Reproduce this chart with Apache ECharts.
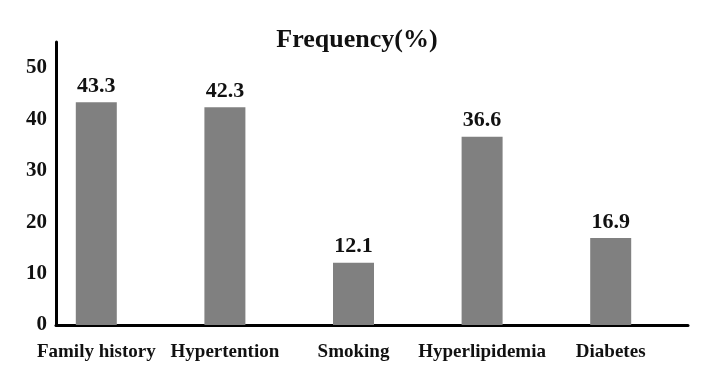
<!DOCTYPE html>
<html><head><meta charset="utf-8">
<script src="https://cdn.jsdelivr.net/npm/echarts@6/dist/echarts.min.js"></script>
<style>html,body{margin:0;padding:0;background:#fff}#c{width:701px;height:372px}</style>
</head><body><div id="c"></div>
<script>
const categories = ['Family history', 'Hypertention', 'Smoking', 'Hyperlipidemia', 'Diabetes'];
const frequency = [43.3, 42.3, 12.1, 36.6, 16.9];
const yTicks = [0, 10, 20, 30, 40, 50];

const font = '"Liberation Serif", "Times New Roman", serif';
const chart = echarts.init(document.getElementById('c'), null, {renderer: 'canvas'});
chart.setOption({
  animation: false,
  backgroundColor: '#fff',
  title: {
    text: 'Frequency(%)', left: 352, top: 22, textAlign: 'center',
    textStyle: {fontFamily: font, fontWeight: 'bold', fontSize: 26, color: '#111'}
  },
  grid: [
    {left: 32, right: 26, top: 42, bottom: 47},
    {left: 56, right: 13, top: 42, bottom: 47}
  ],
  xAxis: [
    {type: 'category', gridIndex: 0, data: categories, boundaryGap: true,
     axisLine: {show: false}, axisTick: {show: false},
     axisLabel: {margin: 18, fontFamily: font, fontWeight: 'bold', fontSize: 19, color: '#111', interval: 0}},
    {type: 'category', gridIndex: 1, data: categories,
     axisLine: {show: true, lineStyle: {color: '#000', width: 3}},
     axisTick: {show: false}, axisLabel: {show: false}}
  ],
  yAxis: [
    {type: 'value', gridIndex: 0, min: 0, max: 55, interval: 10, show: false},
    {type: 'value', gridIndex: 1, min: 0, max: 55, interval: 10,
     axisLine: {show: true, lineStyle: {color: '#000', width: 3}},
     axisTick: {show: false}, splitLine: {show: false},
     axisLabel: {margin: 9, fontFamily: font, fontWeight: 'bold', fontSize: 21, color: '#111',
       formatter: v => yTicks.indexOf(v) >= 0 ? String(v) : ''}}
  ],
  series: [{
    type: 'bar', xAxisIndex: 0, yAxisIndex: 0, data: frequency, barWidth: 41,
    itemStyle: {color: '#808080'},
    label: {show: true, position: 'top', distance: 5, fontFamily: font, fontWeight: 'bold', fontSize: 22, color: '#111',
      formatter: p => p.value.toFixed(1)}
  }]
});
</script></body></html>
